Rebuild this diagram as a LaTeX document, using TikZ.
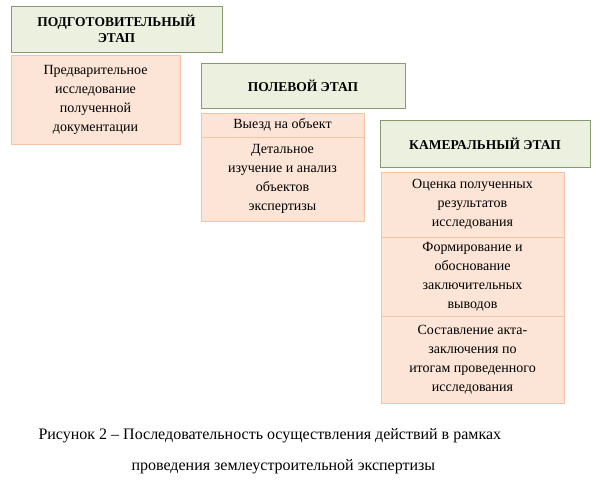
\documentclass[tikz,border=0pt]{standalone}
\usepackage{fontspec}
\setmainfont{Liberation Serif}
\begin{document}
\begin{tikzpicture}[x=1pt,y=-1pt,
 hd/.style={draw=hdb,fill=hdf,line width=0.8pt,font=\fontsize{13.5}{16}\selectfont\bfseries,align=center,inner sep=0pt},
 ct/.style={draw=ctb,fill=ctf,line width=0.6pt,font=\fontsize{14}{19}\selectfont,align=center,inner sep=0pt}]
\definecolor{hdb}{HTML}{8A9A70}\definecolor{hdf}{HTML}{EBF1DE}
\definecolor{ctb}{HTML}{F2C4A4}\definecolor{ctf}{HTML}{FCE4D6}
\useasboundingbox (0,0) rectangle (601,483);
\newcommand\bx[6]{\node[#1,minimum width=#4-#2,minimum height=#5-#3] (#6) at ({(#2+#4)/2},{(#3+#5)/2}) {};}
\node[hd,minimum width=211,minimum height=46] (h1) at (116.5,29) {ПОДГОТОВИТЕЛЬНЫЙ\\ЭТАП};
\node[ct,minimum width=169,minimum height=89] (c1) at (95.5,99.5) {Предварительное\\исследование\\полученной\\документации};
\node[hd,minimum width=204,minimum height=45] (h2) at (303,85.5) {ПОЛЕВОЙ ЭТАП};
\node[ct,minimum width=163,minimum height=24] (c2) at (282.5,125) {Выезд на объект};
\node[ct,minimum width=163,minimum height=84] (c3) at (282.5,179) {Детальное\\изучение и анализ\\объектов\\экспертизы};
\node[hd,minimum width=210,minimum height=47] (h3) at (485,143.5) {КАМЕРАЛЬНЫЙ ЭТАП};
\node[ct,minimum width=183,minimum height=65] (c4) at (472.5,204.5) {Оценка полученных\\результатов\\исследования};
\node[ct,minimum width=183,minimum height=79] (c5) at (472.5,276.5) {Формирование и\\обоснование\\заключительных\\выводов};
\node[ct,minimum width=183,minimum height=87] (c6) at (472.5,359.5) {Составление акта-\\заключения по\\итогам проведенного\\исследования};
\node[font=\fontsize{16}{20}\selectfont,anchor=west] (cap1) at (35,436) {Рисунок 2 – Последовательность осуществления действий в рамках};
\node[font=\fontsize{16}{20}\selectfont,anchor=west] (cap2) at (128,467) {проведения землеустроительной экспертизы};
\end{tikzpicture}
\end{document}
